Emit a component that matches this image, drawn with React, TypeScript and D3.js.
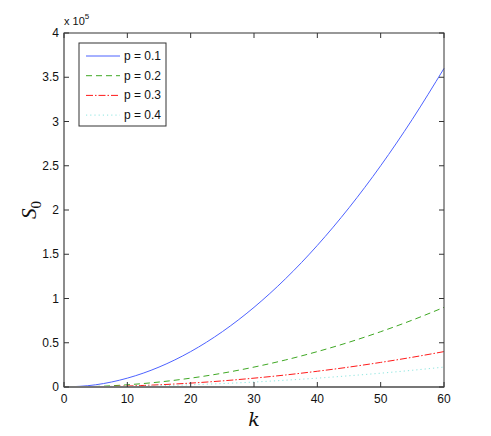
import React from 'react';
import * as d3 from 'd3';

// k values and S0 (in units of 1e5) for each p
const K = [0, 5, 10, 15, 20, 25, 30, 35, 40, 45, 50, 55, 60];
const S_P1 = [0, 0.025, 0.1, 0.225, 0.4, 0.625, 0.9, 1.225, 1.6, 2.025, 2.5, 3.025, 3.6];
const S_P2 = [0, 0.006, 0.025, 0.056, 0.1, 0.156, 0.225, 0.306, 0.4, 0.506, 0.625, 0.756, 0.9];
const S_P3 = [0, 0.003, 0.011, 0.025, 0.044, 0.069, 0.1, 0.136, 0.178, 0.225, 0.278, 0.336, 0.4];
const S_P4 = [0, 0.002, 0.006, 0.014, 0.025, 0.039, 0.056, 0.077, 0.1, 0.127, 0.156, 0.189, 0.225];

const X_TICKS = [0, 10, 20, 30, 40, 50, 60];
const Y_TICKS = [0, 0.5, 1, 1.5, 2, 2.5, 3, 3.5, 4];
const LABELS = ['p = 0.1', 'p = 0.2', 'p = 0.3', 'p = 0.4'];

const SERIES = [
  { name: LABELS[0], values: S_P1, color: '#4d62ff', dash: '' },
  { name: LABELS[1], values: S_P2, color: '#3fa824', dash: '6,4' },
  { name: LABELS[2], values: S_P3, color: '#ff1a1a', dash: '7,2,1.5,2' },
  { name: LABELS[3], values: S_P4, color: '#8ee6e0', dash: '1.2,3' },
];

export default function App() {
  const width = 491;
  const height = 436;
  const left = 64;
  const right = 444;
  const top = 33;
  const bottom = 387;

  const x = d3.scaleLinear().domain([0, 60]).range([left, right]);
  const y = d3.scaleLinear().domain([0, 4]).range([bottom, top]);

  const line = d3
    .line<number>()
    .x((_, i) => x(K[i]))
    .y(d => y(d))
    .curve(d3.curveMonotoneX);

  const font = '"Liberation Sans", Arial, sans-serif';
  const tick = 5;

  return (
    <svg
      width={width}
      height={height}
      style={{ position: 'absolute', left: 0, top: 0, background: '#fff' }}
    >
      {/* curves */}
      <g fill="none">
        {SERIES.map(s => (
          <path
            key={s.name}
            d={line(s.values) || ''}
            stroke={s.color}
            strokeWidth={1}
            strokeDasharray={s.dash || undefined}
          />
        ))}
      </g>

      {/* frame */}
      <rect
        x={left}
        y={top}
        width={right - left}
        height={bottom - top}
        fill="none"
        stroke="#333"
        strokeWidth={1}
      />
      <line x1={left} x2={right} y1={bottom} y2={bottom} stroke="#777" strokeWidth={2} />
      <line x1={left} x2={left} y1={top} y2={bottom} stroke="#888" strokeWidth={1.5} />

      {/* x ticks */}
      {X_TICKS.map(t => (
        <g key={'x' + t}>
          <line x1={x(t)} x2={x(t)} y1={bottom} y2={bottom - tick} stroke="#333" />
          <line x1={x(t)} x2={x(t)} y1={top} y2={top + tick} stroke="#333" />
          <text
            x={x(t)}
            y={bottom + 16}
            textAnchor="middle"
            fontFamily={font}
            fontSize={12}
            fill="#111"
          >
            {t}
          </text>
        </g>
      ))}

      {/* y ticks */}
      {Y_TICKS.map(t => (
        <g key={'y' + t}>
          <line x1={left} x2={left + tick} y1={y(t)} y2={y(t)} stroke="#333" />
          <line x1={right} x2={right - tick} y1={y(t)} y2={y(t)} stroke="#333" />
          <text
            x={left - 5}
            y={y(t) + 4}
            textAnchor="end"
            fontFamily={font}
            fontSize={12}
            fill="#111"
          >
            {t}
          </text>
        </g>
      ))}

      {/* exponent */}
      <text x={left} y={top - 8} fontFamily={font} fontSize={11} fill="#111">
        x 10
        <tspan dy={-6} fontSize={8}>5</tspan>
      </text>

      {/* axis labels */}
      <text
        x={x(30)}
        y={426}
        textAnchor="middle"
        fontFamily='"DejaVu Serif", "Liberation Serif", serif'
        fontStyle="italic"
        fontSize={19}
        fill="#111"
      >
        k
      </text>
      <text
        transform={`translate(36, ${y(2)}) rotate(-90)`}
        textAnchor="middle"
        fontFamily='"Liberation Serif", serif'
        fontStyle="italic"
        fontSize={21}
        fill="#111"
      >
        S
        <tspan dy={5} fontSize={15} fontStyle="normal">0</tspan>
      </text>

      {/* legend */}
      <g>
        <rect x={79} y={43} width={87} height={83} fill="#fff" stroke="#333" strokeWidth={1} />
        {SERIES.map((s, i) => {
          const ly = 56 + i * 19.7;
          return (
            <g key={'lg' + s.name}>
              <line
                x1={86}
                x2={120}
                y1={ly}
                y2={ly}
                stroke={s.color}
                strokeWidth={1}
                strokeDasharray={s.dash || undefined}
              />
              <text x={124} y={ly + 4} fontFamily={font} fontSize={12} fill="#111">
                {s.name}
              </text>
            </g>
          );
        })}
      </g>
    </svg>
  );
}
